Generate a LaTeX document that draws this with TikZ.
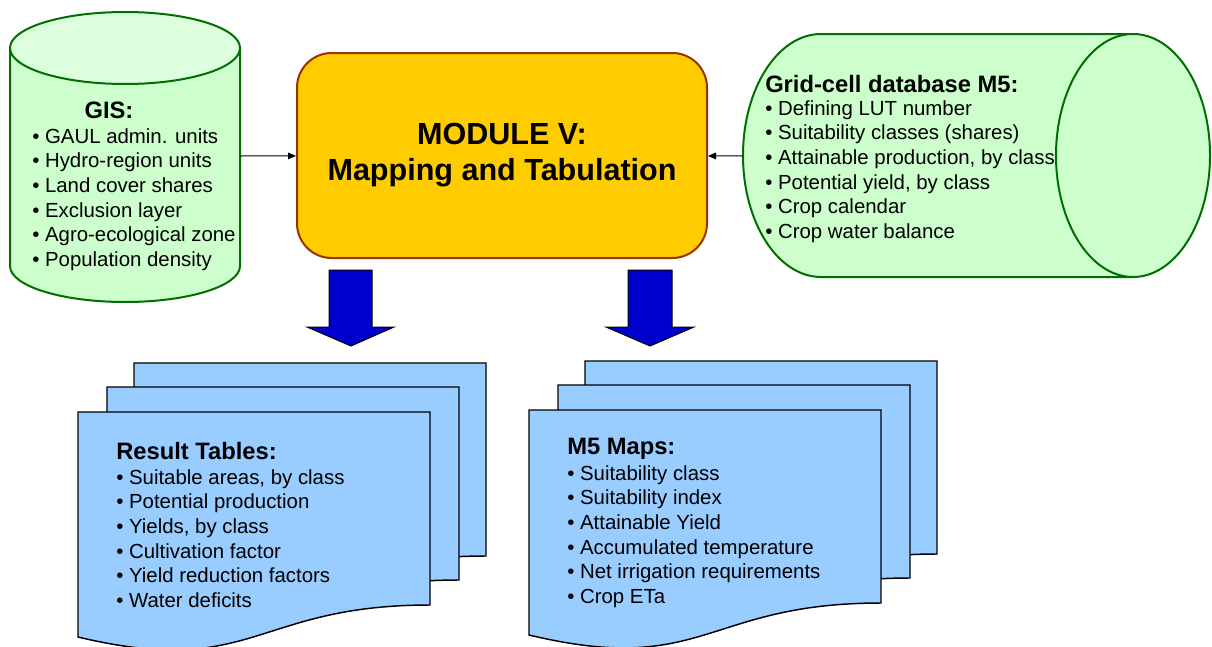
\documentclass[tikz,border=0pt]{standalone}
\usepackage{fontspec}
\setmainfont{Liberation Sans}
\usetikzlibrary{arrows.meta,positioning}

\definecolor{cylfill}{RGB}{204,255,204}
\definecolor{cyltop}{RGB}{221,255,221}
\definecolor{cyledge}{RGB}{0,110,0}
\definecolor{modfill}{RGB}{255,204,0}
\definecolor{modedge}{RGB}{153,51,0}
\definecolor{bigblue}{RGB}{0,0,204}
\definecolor{pagefill}{RGB}{153,204,255}

% one sheet of a document stack, #1,#2 = top left corner
\newcommand{\docpage}[2]{%
  \draw[page] (#1,#2) -- ++(352,0) -- ++(0,193)
    .. controls +(-176,0) and +(176,42) .. ++(-352,32) -- cycle;}

\begin{document}
\begin{tikzpicture}[
    x=0.75pt, y=-0.75pt,
    cyl/.style={draw=cyledge, line width=1.5pt, fill=cylfill},
    modbox/.style={rectangle, rounded corners=26pt, draw=modedge, line width=1.5pt, fill=modfill,
      minimum width=307.5pt, minimum height=153.75pt, align=center,
      font=\bfseries\fontsize{22.9}{27}\selectfont},
    page/.style={draw=black, line width=1.1pt, fill=pagefill},
    bigarrow/.style={draw=black, line width=0.75pt, fill=bigblue},
    arrow/.style={-{Triangle[length=6pt,width=5pt]}, line width=0.75pt},
    heading/.style={inner sep=0pt, font=\bfseries\fontsize{17.8}{21}\selectfont},
    itemlist/.style={inner sep=0pt, align=left, font=\fontsize{15.3}{18.5}\selectfont}
]
    \useasboundingbox (0,0) rectangle (1212,646);

    % GIS cylinder
    \draw[cyl] (10,48) -- (10,266) arc (180:0:115 and 36) -- (240,48) -- cycle;
    \draw[cyl, fill=cyltop] (125,48) ellipse (115 and 36);
    \node[heading, anchor=north] (gis-title) at (109,102) {GIS:};
    \node[itemlist, anchor=north west] (gis-list) at (32,128)
      {• GAUL admin. units\\ • Hydro-region units\\ • Land cover shares\\
       • Exclusion layer\\ • Agro-ecological zone\\ • Population density};
    \coordinate (gis-out) at (240,156);

    % grid-cell database cylinder
    \draw[cyl] (1133,34) -- (821,34) arc (270:90:78 and 121.5) -- (1133,277) -- cycle;
    \draw[cyl] (1133,155.5) ellipse (77 and 121.5);
    \node[heading, anchor=north west] (grid-title) at (765,75) {Grid-cell database M5:};
    \node[itemlist, anchor=north west] (grid-list) at (765,100)
      {• Defining LUT number\\ • Suitability classes (shares)\\ • Attainable production, by class\\
       • Potential yield, by class\\ • Crop calendar\\ • Crop water balance};
    \coordinate (grid-out) at (743,156);

    % module
    \node[modbox] (module) at (502,155.5) {MODULE V:\\ Mapping and Tabulation};

    \draw[arrow] (gis-out) -- (module);
    \draw[arrow] (grid-out) -- (module);

    % outputs
    \draw[bigarrow] (329,270) -- (372,270) -- (372,327) -- (394,327) -- (351,346)
      -- (307,327) -- (329,327) -- cycle;
    \draw[bigarrow] (628,270) -- (672,270) -- (672,327) -- (694,327) -- (650,346)
      -- (606,327) -- (628,327) -- cycle;

    \docpage{134}{363}
    \docpage{107}{387}
    \docpage{78}{412}
    \node[heading, anchor=north west] (tables-title) at (116,442) {Result Tables:};
    \node[itemlist, anchor=north west] (tables-list) at (116,469)
      {• Suitable areas, by class\\ • Potential production\\ • Yields, by class\\
       • Cultivation factor\\ • Yield reduction factors\\ • Water deficits};

    \docpage{585}{361}
    \docpage{558}{385}
    \docpage{529}{410}
    \node[heading, anchor=north west] (maps-title) at (567,438) {M5 Maps:};
    \node[itemlist, anchor=north west] (maps-list) at (567,465)
      {• Suitability class\\ • Suitability index\\ • Attainable Yield\\
       • Accumulated temperature\\ • Net irrigation requirements\\ • Crop ETa};
\end{tikzpicture}
\end{document}
